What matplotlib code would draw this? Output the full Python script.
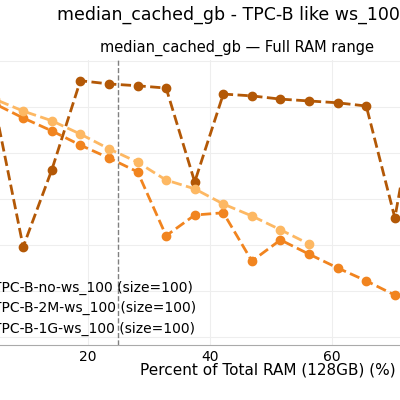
import numpy as np
import matplotlib.pyplot as plt

# x = 6GB steps as percent of 128GB
pct = [k * 6 / 128 * 100 for k in range(1, 17)]

no_ws = [50.4, 19.6, 36.3, 55.7, 55.0, 54.6, 54.1, 33.7, 52.8, 52.4, 51.7, 51.3, 50.9, 50.2, 25.9, 60.0]
ws_2m = [50.7, 47.6, 44.8, 41.7, 38.9, 35.9, 22.0, 26.5, 27.0, 16.5, 21.1, 18.0, 15.0, 12.2, 9.1]
ws_1g = [51.7, 49.1, 47.0, 44.1, 40.9, 38.0, 34.1, 32.2, 28.9, 26.3, 23.3, 20.2]

fig = plt.figure(figsize=(4, 4), dpi=100)
ax = fig.add_axes([-0.085, 0.1375, 1.354, 0.7125])

ax.plot(pct[:len(no_ws)], no_ws, "o--", color="#b35806", lw=2, ms=6, label="TPC-B-no-ws_100 (size=100)")
ax.plot(pct[:len(ws_2m)], ws_2m, "o--", color="#f1841f", lw=2, ms=6, label="TPC-B-2M-ws_100 (size=100)")
ax.plot(pct[:len(ws_1g)], ws_1g, "o--", color="#fdb863", lw=2, ms=6, label="TPC-B-1G-ws_100 (size=100)")
ax.axvline(25, color="gray", ls="--", lw=1)

ax.set_xlim(0, 88.8)
ax.set_ylim(-1.74, 60.2)
ax.set_xticks([0, 20, 40, 60, 80])
ax.set_yticks(range(0, 61, 10))
ax.grid(color="#eeeeee", lw=0.8)
for s in ["top", "right", "left"]:
    ax.spines[s].set_visible(False)
ax.spines["bottom"].set_color("#aaaaaa")
ax.tick_params(length=0, labelsize=10)
ax.set_xlabel("Percent of Total RAM (128GB) (%)", fontsize=11)
ax.xaxis.set_label_coords((268 / 400 + 0.085) / 1.354, -0.06)
ax.set_title("median_cached_gb — Full RAM range", fontsize=10.5)
fig.suptitle("median_cached_gb - TPC-B like ws_100", fontsize=12.5, x=0.57, y=0.985)

ax.legend(loc="lower left", bbox_to_anchor=(-0.145, 0.13), bbox_transform=fig.transFigure,
          frameon=False, fontsize=10, handlelength=2, labelspacing=0.45)

fig.savefig("out.png", dpi=100)
